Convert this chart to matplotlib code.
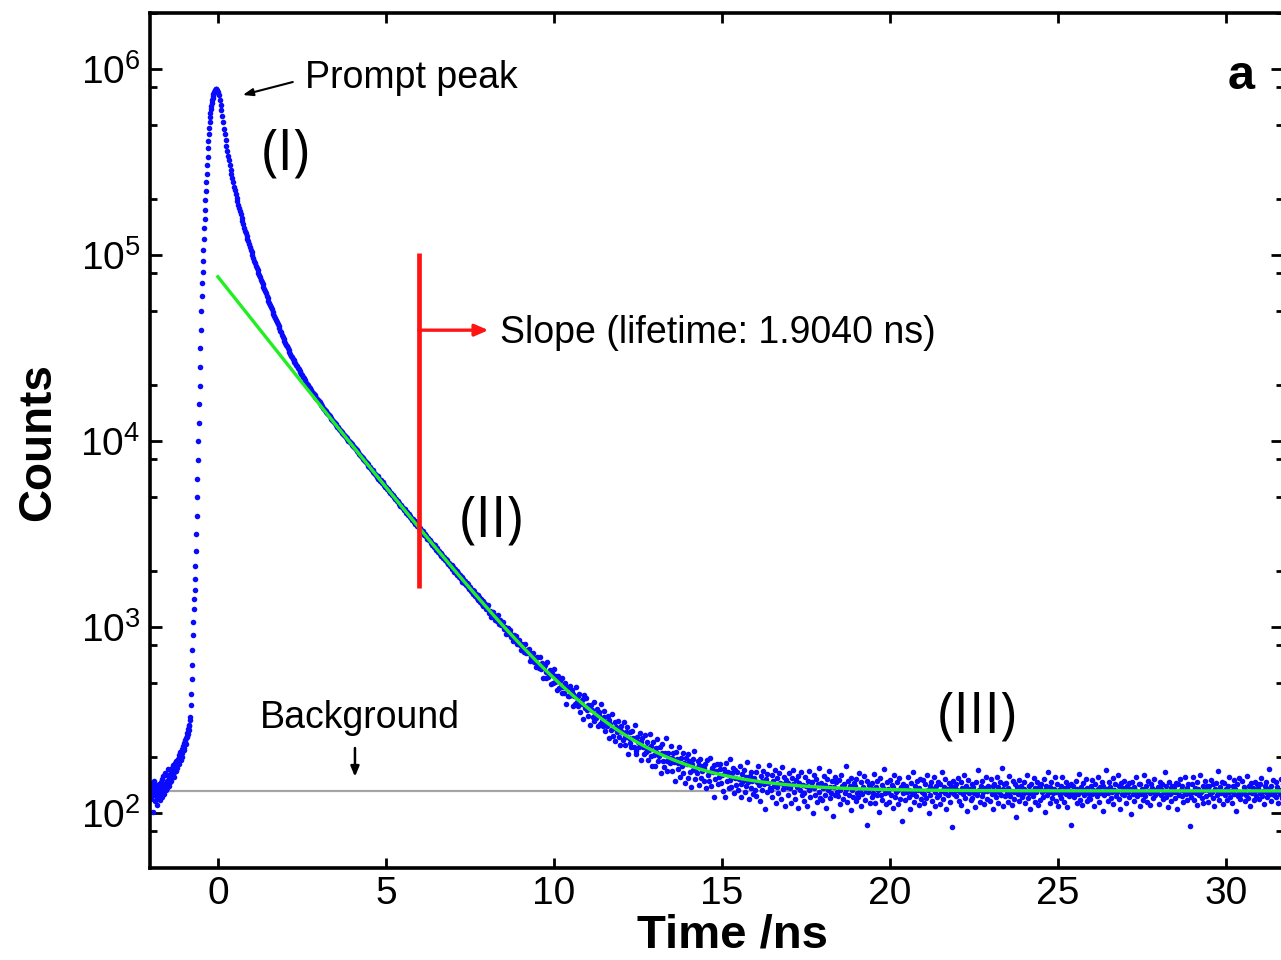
import numpy as np
import matplotlib
matplotlib.use("Agg")
import matplotlib.pyplot as plt
from matplotlib.ticker import LogLocator, NullFormatter, FixedLocator

plt.rcParams['font.family'] = ['Liberation Sans', 'DejaVu Sans']
plt.rcParams['mathtext.fontset'] = 'custom'
plt.rcParams['mathtext.rm'] = 'Liberation Sans'

# TCSPC histogram. The rising edge is binned finer than the decay.
edge_start = -2.02      # ns
edge_step = 0.0125      # ns per channel
edge_counts = [
    128, 141, 119, 135, 146, 124, 131, 102, 138, 127, 150, 133, 116, 129, 142, 136, 121, 111, 139, 131,
    126, 144, 134, 118, 137, 148, 129, 140, 123, 152, 135, 131, 158, 127, 143, 139, 165, 133, 146, 141,
    149, 137, 158, 144, 173, 140, 151, 162, 147, 156, 168, 150, 175, 159, 163, 181, 157, 170, 166, 186,
    172, 179, 168, 190, 183, 176, 197, 186, 192, 205, 184, 199, 213, 194, 208, 201, 222, 210, 218, 231,
    225, 238, 220, 247, 241, 255, 236, 262, 258, 271, 266, 285, 279, 300, 296, 318,
    331, 380, 437, 525, 631, 759, 912, 1072, 1259, 1413, 1585, 1820, 2138, 2570, 3162, 3981,
    5012, 6310, 7943, 10000, 12590, 15850, 19950, 25120, 31620, 39810, 50120, 60260, 70790, 81280,
    93330, 107200, 123000, 139600, 156700, 175800, 197200, 221300, 248300, 275400, 305500, 338800,
    375800, 412100, 446700, 484200, 518800, 552100, 584800, 612300, 638300, 660700, 682300, 701500,
    717800, 732800, 746400, 756800, 767400, 774500, 781600, 785200,
]

decay_start = -0.045    # ns
decay_step = 0.025      # ns per channel
decay_counts = [
    # -0.05 .. 0.45 ns
    783000, 776000, 753000, 724000, 687000, 646000, 604000, 562000, 520000, 479000,
    447000, 417000, 389000, 363000, 343000, 324000, 305000, 288000, 274000, 260000,
    247000, 234000, 224000, 214000, 204000, 195000, 187000, 180000, 173000, 166000,
    159000, 153000, 147000, 141000, 136000, 132000, 127000, 123000, 119000, 115000,
    111000, 107000, 104000, 100000, 96600, 93300, 90600, 88100, 85500, 83200,
    80700, 78500, 76200, 74100, 71900, 70000, 67900, 66100, 64100, 62400,
    60500, 58900, 57100, 55600, 54000, 52500, 51200, 49800, 48500, 47300,
    46100, 44900, 43800, 42700, 41600, 40500, 39400, 38500, 37500, 36500,
    35600, 34700, 33900, 33100, 32400, 31600, 30900, 30200, 29500, 28800,
    28300, 27800, 27300, 26800, 26300, 25800, 25400, 24900, 24400, 24000,
    23600, 23100, 22700, 22300, 21900, 21500, 21100, 20700, 20300, 20000,
    19700, 19400, 19100, 18800, 18500, 18200, 18000, 17700, 17400, 17200,
    16900, 16700, 16400, 16200, 15900, 15700, 15500, 15200, 15000, 14800,
    14600, 14400, 14200, 14000, 13800, 13600, 13400, 13200, 13100, 12900,
    12700, 12500, 12400, 12200, 12000, 11900, 11700, 11500, 11400, 11200,
    11100, 10900, 10800, 10700, 10500, 10400, 10300, 10100, 10000, 9890,
    9760, 9640, 9520, 9400, 9280, 9160, 9050, 8930, 8820, 8710,
    8600, 8490, 8380, 8270, 8160, 8060, 7950, 7850, 7750, 7650,
    # 4.45 ns onwards
    7560, 7390, 7310, 7290, 7080, 7050, 7010, 6820, 6790, 6640, 6630, 6470, 6480, 6310, 6300, 6150, 6170, 5990, 6010, 5860,
    5850, 5700, 5690, 5540, 5560, 5410, 5400, 5260, 5290, 5120, 5150, 5010, 5020, 4870, 4900, 4760, 4770, 4630, 4650, 4510,
    4530, 4410, 4400, 4290, 4310, 4250, 4120, 4150, 4010, 4050, 3930, 3950, 3880, 3770, 3800, 3690, 3710, 3590, 3610, 3500,
    3540, 3420, 3430, 3310, 3350, 3240, 3280, 3150, 3190, 3080, 3110, 2990, 3040, 2930, 2960, 2850, 2890, 2780, 2810, 2720,
    2760, 2650, 2620, 2660, 2540, 2580, 2470, 2510, 2420, 2460, 2360, 2400, 2290, 2340, 2250, 2290, 2180, 2230, 2140, 2170,
    2160, 2050, 2100, 1990, 2050, 1950, 2010, 1900, 1960, 1860, 1910, 1810, 1870, 1760, 1820, 1730, 1780, 1680, 1730, 1650,
    1700, 1610, 1650, 1570, 1540, 1590, 1510, 1560, 1470, 1520, 1440, 1490, 1400, 1450, 1370, 1420, 1340, 1390, 1300, 1350,
    1333, 1248, 1286, 1313, 1231, 1199, 1220, 1143, 1209, 1213, 1153, 1161, 1089, 1153, 1087, 1165, 1079, 1042, 1100, 1029,
    1025, 1065, 977, 1005, 1010, 918, 982, 986, 925, 927, 973, 884, 911, 849, 907, 875, 841, 893, 813, 846,
    856, 802, 813, 753, 814, 792, 738, 814, 748, 726, 757, 729, 760, 663, 728, 690, 693, 728, 648, 680,
    613, 680, 696, 636, 604, 695, 628, 596, 646, 537, 614, 630, 576, 536, 654, 543, 572, 588, 496, 566,
    551, 499, 595, 508, 547, 461, 517, 546, 473, 512, 483, 442, 532, 477, 441, 502, 388, 479, 469, 426,
    427, 482, 432, 462, 377, 438, 425, 387, 477, 399, 379, 426, 437, 350, 402, 387, 411, 321, 430, 367,
    415, 359, 333, 381, 367, 299, 383, 360, 329, 396, 315, 340, 324, 366, 293, 350, 338, 302, 386, 313,
    294, 328, 353, 277, 310, 295, 334, 255, 316, 304, 279, 343, 262, 288, 309, 246, 292, 275, 314, 258,
    284, 234, 296, 273, 248, 311, 256, 232, 274, 292, 208, 255, 272, 239, 226, 277, 254, 228, 297, 208,
    216, 256, 243, 226, 269, 194, 242, 254, 226, 209, 265, 213, 227, 242, 193, 219, 267, 203, 229, 180,
    241, 207, 180, 225, 211, 250, 191, 204, 227, 164, 212, 235, 190, 178, 212, 253, 190, 169, 212, 198,
    186, 229, 169, 199, 211, 189, 149, 213, 197, 173, 187, 227, 157, 198, 179, 165, 210, 186, 146, 198,
    184, 154, 209, 192, 166, 139, 185, 196, 171, 215, 152, 176, 165, 190, 142, 183, 197, 154, 168, 179,
    150, 176, 185, 137, 194, 160, 166, 150, 199, 141, 175, 167, 123, 182, 152, 168, 184, 144, 157, 173,
    185, 146, 161, 132, 173, 164, 122, 187, 149, 167, 137, 196, 151, 138, 165, 175, 129, 154, 171, 142,
    # background region
    166, 134, 153, 179, 144, 122, 162, 149, 172, 131, 156, 140, 188, 147, 120, 159, 167, 137, 150, 127,
    155, 134, 166, 124, 147, 179, 142, 117, 159, 150, 133, 169, 143, 105, 153, 163, 130, 146, 182, 137,
    133, 161, 122, 149, 141, 172, 113, 154, 138, 129, 165, 146, 120, 177, 143, 135, 157, 109, 151, 139,
    146, 125, 164, 136, 113, 154, 143, 171, 130, 120, 151, 138, 158, 107, 145, 133, 167, 126, 142, 117,
    128, 156, 141, 109, 150, 134, 169, 122, 140, 147, 101, 160, 136, 125, 153, 115, 143, 175, 131, 121,
    145, 118, 136, 158, 126, 142, 107, 152, 134, 168, 121, 139, 129, 150, 97, 138, 157, 125, 147, 131,
    124, 151, 133, 112, 160, 140, 120, 144, 128, 179, 135, 115, 149, 125, 141, 104, 154, 134, 122, 146,
    140, 116, 153, 129, 123, 165, 134, 110, 148, 127, 139, 158, 118, 132, 87, 150, 130, 142, 114, 137,
    122, 145, 129, 162, 113, 138, 126, 149, 133, 102, 155, 125, 142, 118, 136, 173, 128, 112, 147, 131,
    135, 115, 151, 126, 142, 107, 139, 160, 123, 131, 148, 112, 133, 154, 120, 138, 91, 144, 128, 141,
    118, 140, 130, 157, 122, 134, 106, 146, 127, 167, 131, 115, 141, 124, 150, 134, 111, 137, 153, 119,
    131, 151, 114, 127, 143, 121, 161, 134, 101, 140, 125, 147, 116, 135, 156, 109, 130, 141, 122, 148,
    125, 112, 144, 132, 166, 119, 138, 128, 153, 106, 135, 125, 146, 115, 140, 131, 84, 150, 127, 137,
    143, 124, 134, 154, 117, 130, 148, 111, 137, 127, 160, 121, 132, 141, 103, 151, 128, 135, 118, 144,
    121, 138, 128, 108, 147, 131, 125, 170, 134, 115, 141, 124, 150, 130, 112, 137, 157, 119, 132, 140,
    134, 116, 153, 127, 140, 105, 144, 131, 122, 156, 138, 114, 130, 147, 125, 175, 135, 109, 143, 124,
    146, 128, 115, 137, 159, 124, 132, 111, 150, 130, 119, 143, 96, 138, 127, 151, 116, 134, 141, 122,
    127, 148, 135, 114, 131, 161, 121, 140, 128, 106, 144, 132, 124, 154, 137, 115, 130, 148, 111, 138,
    137, 118, 143, 130, 122, 153, 134, 102, 141, 125, 166, 131, 114, 138, 147, 121, 128, 135, 156, 116,
    130, 144, 109, 134, 125, 141, 121, 157, 131, 115, 137, 127, 148, 108, 140, 124, 132, 87, 143, 128,
    141, 122, 131, 150, 114, 135, 127, 163, 118, 138, 130, 111, 146, 125, 134, 153, 116, 137, 128, 121,
    119, 140, 151, 127, 134, 109, 144, 131, 124, 157, 135, 115, 138, 128, 148, 103, 141, 125, 132, 172,
    135, 116, 128, 147, 138, 121, 131, 154, 112, 134, 143, 124, 130, 161, 119, 140, 106, 146, 127, 137,
    125, 150, 132, 114, 141, 130, 122, 146, 135, 99, 148, 127, 138, 116, 134, 156, 124, 131, 143, 109,
    144, 127, 135, 118, 160, 131, 124, 140, 115, 150, 132, 128, 111, 143, 137, 121, 153, 130, 125, 134,
    128, 138, 112, 148, 125, 135, 144, 119, 131, 166, 122, 141, 130, 108, 147, 127, 137, 116, 140, 131,
    138, 121, 146, 130, 105, 143, 125, 153, 134, 124, 140, 115, 132, 157, 127, 137, 118, 144, 128, 86,
    122, 143, 131, 156, 118, 137, 128, 111, 147, 135, 125, 161, 130, 121, 141, 114, 134, 150, 124, 140,
    134, 115, 140, 127, 151, 131, 121, 143, 109, 135, 146, 125, 130, 169, 118, 138, 128, 148, 112, 132,
    146, 125, 135, 118, 141, 130, 157, 122, 132, 114, 140, 151, 127, 135, 103, 143, 124, 131, 154, 119,
    127, 150, 131, 138, 116, 134, 125, 159, 121, 141, 130, 109, 146, 128, 137, 118, 148, 132, 124, 143,
    137, 119, 144, 128, 154, 124, 132, 112, 140, 131, 148, 122, 135, 173, 127, 117, 141, 130, 151, 125,
    130, 147, 122, 138, 114, 134, 127, 153, 131, 121, 143, 125, 137, 111, 146, 130, 124, 156, 118, 135,
]

# single exponential tail fit
lifetime = 1.9040       # ns
fit_amplitude = 76600
background = 132

x_ticks = [0, 5, 10, 15, 20, 25, 30]

edge_t = edge_start + edge_step * np.arange(len(edge_counts))
decay_t = decay_start + decay_step * np.arange(len(decay_counts))
t = np.concatenate([edge_t, decay_t])
counts = np.concatenate([edge_counts, decay_counts])

fit_t = np.linspace(0, 31.8, 800)
fit = fit_amplitude * np.exp(-fit_t / lifetime) + background

fig = plt.figure(figsize=(12.81, 9.6), dpi=100)
ax = fig.add_axes([150 / 1281, 92 / 960, 1133 / 1281, 855 / 960])

ax.axhline(background, color='#a4a4a4', lw=1.6, zorder=1)
ax.plot(t, counts, 'o', ms=4.0, color='#0a0aff', mec='none', zorder=2)
ax.plot(fit_t, fit, color='#22ee22', lw=2.4, zorder=3)

ax.set_yscale('log')
ax.set_xlim(-2.02, 31.7)
ax.set_ylim(10 ** 1.706, 10 ** 6.303)

ax.xaxis.set_major_locator(FixedLocator(x_ticks))
ax.yaxis.set_major_locator(LogLocator(base=10, numticks=10))
ax.yaxis.set_minor_locator(LogLocator(base=10, subs=(2, 5, 8), numticks=10))
ax.yaxis.set_minor_formatter(NullFormatter())

for s in ax.spines.values():
    s.set_linewidth(2.6)
ax.tick_params(which='both', direction='in', top=True, right=True, width=2, labelsize=28)
ax.tick_params(axis='x', which='major', length=7.5, pad=6)
ax.tick_params(axis='y', which='major', length=8.5, pad=7)
ax.tick_params(axis='y', which='minor', length=5)

ax.set_xlabel('Time /ns', fontsize=34, fontweight='bold', va='top')
ax.xaxis.set_label_coords(0.5137, -0.053)
ax.set_ylabel('Counts', fontsize=33, fontweight='bold')
ax.yaxis.set_label_coords(-0.079, 0.498)

# lifetime marker
red = '#ff1414'
ax.plot([5.98, 5.98], [1630, 1.03e5], color=red, lw=3.4, solid_capstyle='butt', zorder=4)
ax.annotate('', xy=(8.05, 3.96e4), xytext=(5.98, 3.96e4),
            arrowprops=dict(arrowstyle='-|>,head_length=0.8,head_width=0.35', color=red, lw=2.4,
                            shrinkA=0, shrinkB=0), zorder=4)
ax.text(8.39, 10 ** 4.528, 'Slope (lifetime: 1.9040 ns)', fontsize=27, va='baseline')

ax.annotate('', xy=(0.74, 7.28e5), xytext=(2.23, 8.55e5),
            arrowprops=dict(arrowstyle='-|>,head_length=0.6,head_width=0.22', color='black', lw=1.5,
                            shrinkA=0, shrinkB=0))
ax.text(2.59, 10 ** 5.899, 'Prompt peak', fontsize=27, va='baseline')

ax.annotate('', xy=(4.08, 10 ** 2.197), xytext=(4.08, 10 ** 2.351),
            arrowprops=dict(arrowstyle='-|>,head_length=0.6,head_width=0.25', color='black', lw=1.8,
                            shrinkA=0, shrinkB=0))
ax.text(1.25, 10 ** 2.459, 'Background', fontsize=27, va='baseline')

region_font = ['Open Sans', 'DejaVu Sans']
ax.text(2.02, 10 ** 5.539, '(I)', fontsize=40, family=region_font, ha='center', va='center')
ax.text(8.15, 10 ** 3.566, '(II)', fontsize=40, family=region_font, ha='center', va='center')
ax.text(22.62, 10 ** 2.512, '(III)', fontsize=40, family=region_font, ha='center', va='center')

ax.text(30.45, 10 ** 5.893, 'a', fontsize=35, fontweight='bold', ha='center', va='baseline')

fig.savefig('out.png', dpi=100)
